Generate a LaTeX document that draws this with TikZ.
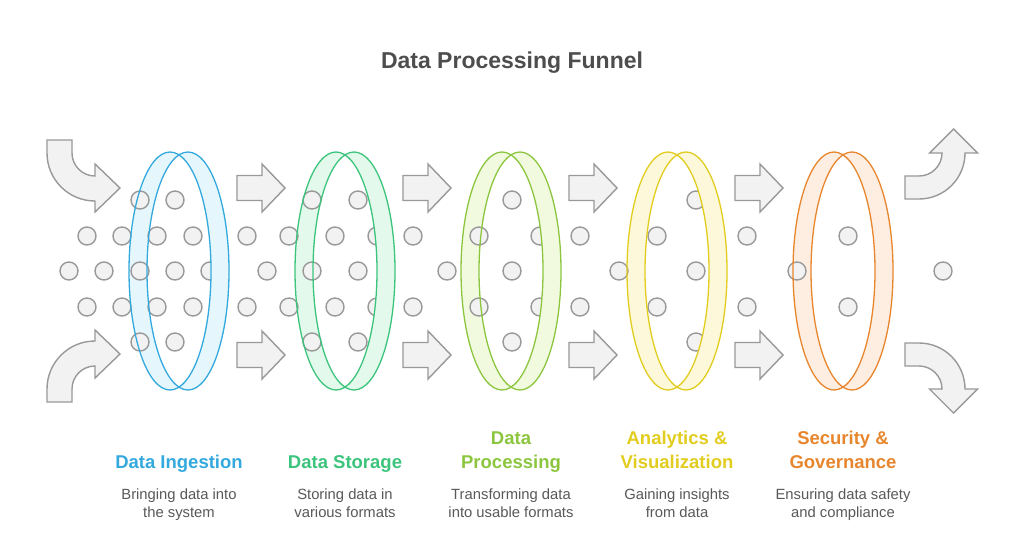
\documentclass[tikz,border=0pt]{standalone}
\usepackage{fontspec}
\setmainfont{Liberation Sans}
\definecolor{lnA}{HTML}{33A9DD}\definecolor{flA}{HTML}{E5F6FD}
\definecolor{lnB}{HTML}{3CC47C}\definecolor{flB}{HTML}{E2F9EC}
\definecolor{lnC}{HTML}{8CC63F}\definecolor{flC}{HTML}{F1FADF}
\definecolor{lnD}{HTML}{E2CD1F}\definecolor{flD}{HTML}{FDF8DA}
\definecolor{lnE}{HTML}{E8862D}\definecolor{flE}{HTML}{FDEEE1}
\definecolor{dotline}{HTML}{999999}
\definecolor{dotfill}{HTML}{F2F2F2}
\definecolor{titlegray}{HTML}{4D4D4D}
\definecolor{descgray}{HTML}{595959}
\begin{document}
\begin{tikzpicture}[x=1pt,y=-1pt,
    dot/.style={draw=dotline, fill=dotfill, line width=1.4pt},
    flowarrow/.style={draw=dotline, fill=dotfill, line width=1.4pt, line join=miter},
    ringline/.style={line width=1.3pt},
    heading/.style={font=\fontsize{18.5}{24}\selectfont\bfseries, align=center, anchor=base, inner sep=0pt},
    desc/.style={font=\fontsize{14.8}{18}\selectfont, text=descgray, align=center, anchor=base, inner sep=0pt}]
\useasboundingbox (0,0) rectangle (1024,536);
\fill[white] (0,0) rectangle (1024,536);
% ring bands, behind the dots
\foreach \c/\fl in {170/flA, 336/flB, 502/flC, 668/flD, 834/flE}
  \fill[\fl, even odd rule] (\c,271) ellipse [x radius=41, y radius=119]
    ({\c+18},271) ellipse [x radius=41, y radius=119];
% dots
\foreach \x in {140,175,312,358,512,696} {
  \draw[dot] (\x,200) circle [radius=9];
  \draw[dot] (\x,342) circle [radius=9];
}
\foreach \x in {87,122,157,193,247,289,335,377,413,479,540,580,657,747,848} {
  \draw[dot] (\x,236) circle [radius=9];
  \draw[dot] (\x,307) circle [radius=9];
}
\foreach \x in {69,104,140,175,210,267,312,358,447,512,619,696,797,943}
  \draw[dot] (\x,271) circle [radius=9];
% front part of each ring covers the dots
\foreach \c/\fl in {170/flA, 336/flB, 502/flC, 668/flD, 834/flE} {
  \begin{scope}
    \clip ({\c+18},271) ellipse [x radius=41, y radius=119];
    \fill[\fl, even odd rule] ({\c-60},140) rectangle ({\c+80},400)
      (\c,271) ellipse [x radius=41, y radius=119];
  \end{scope}
}
\foreach \c/\ln in {170/lnA, 336/lnB, 502/lnC, 668/lnD, 834/lnE} {
  \draw[ringline, \ln] (\c,271) ellipse [x radius=41, y radius=119];
  \draw[ringline, \ln] ({\c+18},271) ellipse [x radius=41, y radius=119];
}
% straight arrows between the rings
\foreach \x in {237,403,569,735}
  \foreach \y in {188,355}
    \draw[flowarrow] (\x,{\y-12.5}) -- ({\x+25},{\y-12.5}) -- ({\x+25},{\y-24})
      -- ({\x+48},\y) -- ({\x+25},{\y+24}) -- ({\x+25},{\y+12.5}) -- (\x,{\y+12.5}) -- cycle;
% curved arrows in and out
\draw[flowarrow] (47,140) -- (72,140) -- (72,153) arc [start angle=180, end angle=90, radius=23]
  -- (95,164) -- (120,188) -- (95,212) -- (95,201) arc [start angle=90, end angle=180, radius=48] -- cycle;
\draw[flowarrow] (47,402) -- (72,402) -- (72,389) arc [start angle=180, end angle=270, radius=23]
  -- (95,378) -- (120,354) -- (95,330) -- (95,341) arc [start angle=270, end angle=180, radius=48] -- cycle;
\draw[flowarrow] (905,176) -- (919,176) arc [start angle=90, end angle=0, radius=23]
  -- (929.5,153) -- (953.5,129) -- (977.5,153) -- (965,153) arc [start angle=0, end angle=90, radius=46]
  -- (905,199) -- cycle;
\draw[flowarrow] (905,366) -- (919,366) arc [start angle=270, end angle=360, radius=23]
  -- (929.5,389) -- (953.5,413) -- (977.5,389) -- (965,389) arc [start angle=360, end angle=270, radius=46]
  -- (905,343) -- cycle;
% texts
\node[font=\fontsize{23}{27}\selectfont\bfseries, text=titlegray] (title) at (512,63) {Data Processing Funnel};
\node[heading, text=lnA] (ingest) at (179,468) {Data Ingestion};
\node[heading, text=lnB] (storage) at (345,468) {Data Storage};
\node[heading, text=lnC] (process) at (511,468) {Data\\Processing};
\node[heading, text=lnD] (analytics) at (677,468) {Analytics \&\\Visualization};
\node[heading, text=lnE] (security) at (843,468) {Security \&\\Governance};
\node[desc] (ingestdesc) at (179,517) {Bringing data into\\the system};
\node[desc] (storagedesc) at (345,517) {Storing data in\\various formats};
\node[desc] (processdesc) at (511,517) {Transforming data\\into usable formats};
\node[desc] (analyticsdesc) at (677,517) {Gaining insights\\from data};
\node[desc] (securitydesc) at (843,517) {Ensuring data safety\\and compliance};
\end{tikzpicture}
\end{document}
